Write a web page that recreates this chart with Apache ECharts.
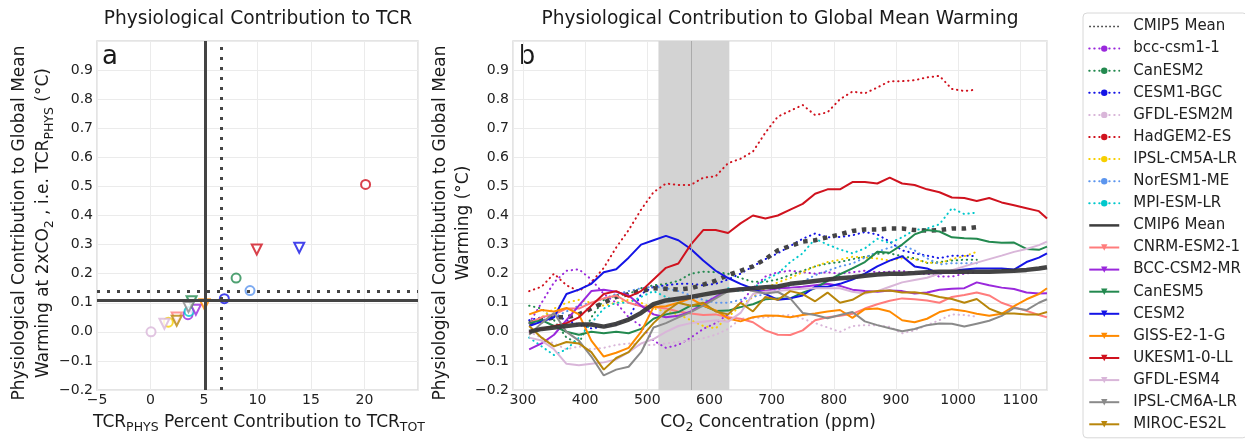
<!DOCTYPE html>
<html lang="en">
<head>
<meta charset="UTF-8">
<title>Physiological contribution to warming</title>
<script src="https://cdn.jsdelivr.net/npm/echarts@6.0.0/dist/echarts.min.js"></script>
<style>
  html, body { margin: 0; padding: 0; background: #fff; }
  #chart { width: 1245px; height: 441px; }
</style>
</head>
<body>
<div id="chart"></div>
<script>
// ---------- panel a: TCR_PHYS for each model ----------
var names5 = ['bcc-csm1-1', 'CanESM2', 'CESM1-BGC', 'GFDL-ESM2M', 'HadGEM2-ES', 'IPSL-CM5A-LR', 'NorESM1-ME', 'MPI-ESM-LR'];
var names6 = ['CNRM-ESM2-1', 'BCC-CSM2-MR', 'CanESM5', 'CESM2', 'GISS-E2-1-G', 'UKESM1-0-LL', 'GFDL-ESM4', 'IPSL-CM6A-LR', 'MIROC-ES2L'];
var colors5 = ['#9a28dc', '#23894f', '#1414e6', '#d9b6d9', '#d0121e', '#f7cf00', '#5b95ee', '#00c8cc'];
var colors6 = ['#ff7c7c', '#9a28dc', '#23894f', '#1414e6', '#ff8a00', '#d0121e', '#d9b6d9', '#8a8a8a', '#b8860b'];

var tcrPct5  = [3.5, 8.0, 6.9, 0.05, 20.1, 1.67, 9.3, 3.6];
var tcrPhys5 = [0.059, 0.185, 0.114, 0.0, 0.507, 0.033, 0.142, 0.07];
var tcrPct6  = [2.45, 4.24, 3.84, 13.9, 5.05, 9.93, 1.3, 3.55, 2.45];
var tcrPhys6 = [0.049, 0.076, 0.105, 0.289, 0.095, 0.283, 0.028, 0.085, 0.038];
var meanPct  = [6.6, 5.15];    // CMIP5, CMIP6
var meanPhys = [0.139, 0.114]; // CMIP5, CMIP6

// ---------- panel b: warming vs CO2 ----------
var co2 = [310, 330, 350, 370, 390, 410, 430, 450, 470, 490, 510, 530, 550, 570, 590, 610, 630, 650, 670, 690,
           710, 730, 750, 770, 790, 810, 830, 850, 870, 890, 910, 930, 950, 970, 990, 1010, 1030, 1050, 1070, 1090,
           1110, 1130, 1143];
var windowPpm = [518, 632];
var doublingPpm = 570;

// CMIP5 (runs stop near 1030 ppm)
var cmip5Mean = [0.03, 0.04, 0.05, 0.05, 0.06, 0.08, 0.10, 0.12, 0.13, 0.14, 0.15, 0.148, 0.145, 0.15, 0.162, 0.176, 0.195, 0.21, 0.225, 0.25,
                 0.28, 0.295, 0.31, 0.315, 0.325, 0.335, 0.347, 0.352, 0.352, 0.355, 0.355, 0.35, 0.348, 0.35, 0.355, 0.355, 0.36];
var bccCsm11 = [0.03, 0.10, 0.17, 0.21, 0.215, 0.18, 0.13, 0.10, 0.05, 0.02, -0.03, -0.055, -0.045, -0.02, 0.01, 0.03, 0.06, 0.10, 0.15, 0.19,
                0.205, 0.21, 0.205, 0.20, 0.205, 0.20, 0.205, 0.21, 0.205, 0.207, 0.21, 0.20, 0.20, 0.19, 0.19, 0.20, 0.205];
var canEsm2 = [0.09, 0.08, 0.04, -0.02, -0.04, 0.05, 0.11, 0.125, 0.13, 0.15, 0.16, 0.165, 0.175, 0.20, 0.207, 0.205, 0.20, 0.185, 0.172, 0.172,
               0.18, 0.195, 0.21, 0.225, 0.235, 0.24, 0.25, 0.258, 0.268, 0.27, 0.26, 0.253, 0.237, 0.24, 0.245, 0.248, 0.248];
var cesm1Bgc = [0.04, 0.05, 0.06, 0.04, 0.025, 0.012, 0.018, 0.025, 0.045, 0.13, 0.155, 0.16, 0.165, 0.165, 0.16, 0.165, 0.18, 0.20, 0.225, 0.25,
                0.27, 0.295, 0.32, 0.338, 0.325, 0.326, 0.332, 0.343, 0.335, 0.31, 0.28, 0.27, 0.262, 0.253, 0.262, 0.262, 0.26];
var gfdlEsm2m = [0.0, -0.02, -0.04, -0.06, -0.05, -0.06, -0.055, -0.045, -0.04, -0.045, -0.045, -0.04, -0.035, -0.03, -0.022, -0.01, 0.01, 0.045, 0.047, 0.05,
                 0.055, 0.058, 0.045, 0.03, 0.015, 0.0, 0.02, 0.023, 0.022, 0.017, -0.005, 0.005, 0.023, 0.04, 0.06, 0.058, 0.052];
var hadGem2 = [0.14, 0.155, 0.20, 0.16, 0.14, 0.17, 0.22, 0.29, 0.35, 0.42, 0.48, 0.51, 0.505, 0.505, 0.53, 0.535, 0.58, 0.595, 0.62, 0.685,
               0.74, 0.76, 0.78, 0.745, 0.755, 0.80, 0.826, 0.82, 0.84, 0.862, 0.862, 0.865, 0.875, 0.88, 0.835, 0.828, 0.833];
var ipslCm5a = [0.03, 0.05, 0.08, 0.10, 0.11, 0.10, 0.09, 0.10, 0.11, 0.10, 0.08, 0.07, 0.06, 0.04, 0.02, 0.012, 0.05, 0.09, 0.12, 0.15,
                0.17, 0.185, 0.205, 0.225, 0.24, 0.248, 0.258, 0.256, 0.252, 0.245, 0.253, 0.25, 0.238, 0.236, 0.25, 0.26, 0.275];
var norEsm1 = [0.03, 0.04, 0.05, 0.07, 0.09, 0.10, 0.115, 0.13, 0.14, 0.15, 0.155, 0.15, 0.14, 0.125, 0.11, 0.10, 0.10, 0.11, 0.12, 0.13,
               0.145, 0.16, 0.172, 0.195, 0.21, 0.225, 0.235, 0.255, 0.275, 0.29, 0.298, 0.28, 0.253, 0.232, 0.236, 0.236, 0.236];
var mpiEsm = [-0.02, -0.05, -0.08, -0.06, -0.02, 0.03, 0.08, 0.10, 0.10, 0.12, 0.14, 0.12, 0.10, 0.09, 0.10, 0.12, 0.15, 0.14, 0.15, 0.18,
              0.20, 0.24, 0.27, 0.32, 0.30, 0.283, 0.27, 0.287, 0.32, 0.305, 0.325, 0.35, 0.355, 0.37, 0.425, 0.405, 0.41];

// CMIP6
var cmip6Mean = [0.0, 0.01, 0.015, 0.02, 0.025, 0.025, 0.018, 0.027, 0.042, 0.065, 0.095, 0.108, 0.114, 0.12, 0.128, 0.135, 0.142, 0.146, 0.15, 0.153,
                 0.156, 0.165, 0.17, 0.175, 0.18, 0.184, 0.188, 0.193, 0.197, 0.2, 0.2, 0.202, 0.205, 0.207, 0.207, 0.207, 0.207, 0.207, 0.208, 0.21,
                 0.213, 0.218, 0.222];
var cnrmEsm2 = [0.03, 0.05, 0.06, 0.08, 0.08, 0.10, 0.115, 0.125, 0.10, 0.088, 0.085, 0.08, 0.07, 0.063, 0.058, 0.06, 0.05, 0.045, 0.033, 0.005,
                -0.01, -0.011, 0.005, 0.04, 0.05, 0.055, 0.062, 0.08, 0.095, 0.107, 0.115, 0.112, 0.108, 0.10, 0.12, 0.127, 0.135, 0.125, 0.10, 0.085,
                0.072, 0.058, 0.05];
var bccCsm2 = [-0.06, -0.04, -0.01, 0.04, 0.09, 0.14, 0.145, 0.138, 0.125, 0.09, 0.06, 0.05, 0.055, 0.07, 0.095, 0.12, 0.143, 0.15, 0.143, 0.14,
               0.15, 0.152, 0.155, 0.16, 0.165, 0.158, 0.145, 0.14, 0.138, 0.142, 0.14, 0.132, 0.135, 0.145, 0.148, 0.15, 0.17, 0.16, 0.152, 0.147,
               0.135, 0.132, 0.133];
var canEsm5 = [0.03, 0.04, 0.02, 0.0, -0.01, 0.0, -0.005, 0.0, -0.005, 0.01, 0.045, 0.06, 0.068, 0.09, 0.09, 0.072, 0.073, 0.085, 0.095, 0.112,
               0.115, 0.115, 0.135, 0.15, 0.175, 0.198, 0.218, 0.24, 0.275, 0.272, 0.30, 0.335, 0.35, 0.345, 0.325, 0.322, 0.32, 0.31, 0.306, 0.307,
               0.285, 0.282, 0.293];
var cesm2 = [0.02, 0.035, 0.05, 0.13, 0.145, 0.165, 0.205, 0.215, 0.255, 0.30, 0.315, 0.33, 0.315, 0.285, 0.245, 0.21, 0.185, 0.165, 0.148, 0.13,
             0.11, 0.115, 0.125, 0.155, 0.155, 0.165, 0.18, 0.20, 0.225, 0.245, 0.26, 0.225, 0.218, 0.20, 0.21, 0.214, 0.218, 0.218, 0.218, 0.214,
             0.24, 0.255, 0.27];
var gissE21g = [0.06, 0.075, 0.07, 0.082, 0.06, -0.03, -0.085, -0.072, -0.055, 0.0, 0.085, 0.088, 0.10, 0.115, 0.09, 0.074, 0.046, 0.036, 0.05, 0.056,
                0.055, 0.05, 0.058, 0.063, 0.07, 0.075, 0.048, 0.078, 0.08, 0.07, 0.04, 0.033, 0.045, 0.068, 0.078, 0.072, 0.062, 0.055, 0.062, 0.088,
                0.112, 0.13, 0.15];
var ukEsm1 = [0.0, 0.01, 0.02, 0.03, 0.05, 0.09, 0.13, 0.14, 0.12, 0.14, 0.18, 0.22, 0.235, 0.30, 0.35, 0.35, 0.34, 0.373, 0.40, 0.39,
              0.40, 0.42, 0.44, 0.475, 0.49, 0.49, 0.515, 0.515, 0.51, 0.53, 0.51, 0.505, 0.49, 0.48, 0.462, 0.46, 0.45, 0.46, 0.445, 0.435,
              0.425, 0.415, 0.39];
var gfdlEsm4 = [-0.02, -0.03, -0.06, -0.11, -0.115, -0.11, -0.105, -0.095, -0.07, -0.04, -0.025, 0.0, 0.02, 0.03, 0.035, 0.04, 0.035, 0.065, 0.13, 0.138,
                0.14, 0.145, 0.148, 0.15, 0.15, 0.15, 0.138, 0.132, 0.14, 0.155, 0.17, 0.178, 0.186, 0.20, 0.212, 0.225, 0.238, 0.25, 0.262, 0.275,
                0.285, 0.298, 0.31];
var ipslCm6a = [-0.01, 0.03, 0.065, 0.0, -0.03, -0.085, -0.15, -0.13, -0.12, -0.07, 0.015, 0.03, 0.05, 0.068, 0.09, 0.115, 0.14, 0.15, 0.14, 0.132,
                0.137, 0.115, 0.065, 0.058, 0.047, 0.058, 0.068, 0.036, 0.023, 0.012, 0.002, 0.01, 0.023, 0.029, 0.028, 0.018, 0.028, 0.038, 0.055, 0.082,
                0.075, 0.10, 0.112];
var mirocEs2l = [0.02, -0.02, -0.05, -0.035, -0.04, -0.07, -0.13, -0.09, -0.07, -0.02, 0.03, 0.07, 0.10, 0.09, 0.10, 0.07, 0.06, 0.10, 0.07, 0.12,
                 0.11, 0.14, 0.13, 0.105, 0.135, 0.10, 0.11, 0.135, 0.14, 0.142, 0.135, 0.136, 0.13, 0.12, 0.113, 0.10, 0.113, 0.08, 0.063, 0.063,
                 0.06, 0.06, 0.068];

var curves5 = [bccCsm11, canEsm2, cesm1Bgc, gfdlEsm2m, hadGem2, ipslCm5a, norEsm1, mpiEsm];
var curves6 = [cnrmEsm2, bccCsm2, canEsm5, cesm2, gissE21g, ukEsm1, gfdlEsm4, ipslCm6a, mirocEs2l];

var chart = echarts.init(document.getElementById('chart'));

function toPairs(vals) {
    return vals.map(function (v, i) { return [co2[i], v]; });
}
function minus(s) { return String(s).replace('-', '\u2212'); }

var FONT = 'DejaVu Sans';
var ink = '#1a1a1a';

var series = [];

// grey band round CO2 doubling, kept under the curves
series.push({
    type: 'line', xAxisIndex: 1, yAxisIndex: 1, data: [], silent: true,
    markArea: {
        silent: true,
        itemStyle: { color: '#d3d3d3' },
        data: [[{ xAxis: windowPpm[0] }, { xAxis: windowPpm[1] }]]
    },
    markLine: {
        silent: true, symbol: ['none', 'none'], label: { show: false },
        lineStyle: { color: '#ababab', width: 1, type: 'solid' },
        data: [{ xAxis: doublingPpm }]
    }
});

function modelLine(name, vals, color, dotted) {
    return {
        name: name, type: 'line', xAxisIndex: 1, yAxisIndex: 1,
        data: toPairs(vals),
        showSymbol: false,
        symbol: dotted ? 'circle' : 'triangle',
        symbolRotate: dotted ? 0 : 180,
        symbolSize: 6,
        itemStyle: { color: color },
        lineStyle: { color: color, width: 2, type: dotted ? [0.4, 4.6] : 'solid', cap: dotted ? 'round' : 'butt' },
        emphasis: { disabled: true },
        silent: true
    };
}

names5.forEach(function (n, i) { series.push(modelLine(n, curves5[i], colors5[i], true)); });
series.push({
    name: 'CMIP5 Mean', type: 'line', xAxisIndex: 1, yAxisIndex: 1,
    data: toPairs(cmip5Mean), showSymbol: false, symbol: 'circle',
    itemStyle: { color: '#444' },
    lineStyle: { color: '#444', width: 4.5, type: [4.5, 5.5] },
    emphasis: { disabled: true }, silent: true
});
names6.forEach(function (n, i) { series.push(modelLine(n, curves6[i], colors6[i], false)); });
series.push({
    name: 'CMIP6 Mean', type: 'line', xAxisIndex: 1, yAxisIndex: 1,
    data: toPairs(cmip6Mean), showSymbol: false, symbol: 'circle',
    itemStyle: { color: '#3a3a3a' },
    lineStyle: { color: '#3a3a3a', width: 4.5, opacity: 0.95 },
    emphasis: { disabled: true }, silent: true
});

// panel a scatter markers
names5.forEach(function (n, i) {
    series.push({
        name: n, type: 'scatter', xAxisIndex: 0, yAxisIndex: 0,
        data: [[tcrPct5[i], tcrPhys5[i]]],
        symbol: 'emptyCircle', symbolSize: 9,
        itemStyle: { color: colors5[i], borderWidth: 1.8 },
        emphasis: { disabled: true }, silent: true, z: 4
    });
});
names6.forEach(function (n, i) {
    series.push({
        name: n, type: 'scatter', xAxisIndex: 0, yAxisIndex: 0,
        data: [[tcrPct6[i], tcrPhys6[i]]],
        symbol: 'emptyTriangle', symbolRotate: 180, symbolSize: 10,
        itemStyle: { color: colors6[i], borderWidth: 1.8 },
        emphasis: { disabled: true }, silent: true, z: 4
    });
});
// multi-model means in panel a
series.push({
    type: 'scatter', xAxisIndex: 0, yAxisIndex: 0, data: [], silent: true,
    markLine: {
        silent: true, symbol: ['none', 'none'], label: { show: false },
        lineStyle: { color: '#444', width: 3 },
        data: [
            { xAxis: meanPct[1], lineStyle: { type: 'solid' } },
            { yAxis: meanPhys[1], lineStyle: { type: 'solid' } },
            { xAxis: meanPct[0], lineStyle: { type: [3, 7] } },
            { yAxis: meanPhys[0], lineStyle: { type: [3, 7] } }
        ]
    }
});

var legendData = [{ name: 'CMIP5 Mean', itemStyle: { opacity: 0 }, lineStyle: { width: 1.6, type: [1.6, 2.4], color: '#333' } }]
    .concat(names5)
    .concat([{ name: 'CMIP6 Mean', itemStyle: { opacity: 0 }, lineStyle: { width: 2.5, type: 'solid', color: '#333' } }])
    .concat(names6);

var tickLabel = { fontFamily: FONT, fontSize: 14, color: '#222' };
var splitLine = { show: true, lineStyle: { color: '#ebebeb', width: 1 } };

function yAxisFor(gridIndex) {
    return {
        type: 'value', gridIndex: gridIndex, min: -0.2, max: 1.0, interval: 0.1,
        axisLine: { show: false }, axisTick: { show: false }, splitLine: splitLine,
        axisLabel: Object.assign({ margin: 4, showMaxLabel: false,
            formatter: function (v) { return minus(v.toFixed(1)); } }, tickLabel)
    };
}

var sub = { fontFamily: FONT, fontSize: 12.5, lineHeight: 12, verticalAlign: 'bottom', fill: ink };
function label(x, y, text, size, rot, lineH) {
    return {
        type: 'text', x: x, y: y, rotation: rot || 0, silent: true,
        style: {
            text: text, fontFamily: FONT, fontSize: size, fill: ink,
            align: 'center', verticalAlign: 'middle', lineHeight: lineH || size + 4,
            rich: { s: sub }
        }
    };
}

var option = {
    animation: false,
    backgroundColor: '#fff',
    grid: [
        { left: 97, top: 41, width: 321, height: 349, show: true, borderColor: '#dcdcdc', borderWidth: 1.5, outerBoundsMode: 'none' },
        { left: 513, top: 41, width: 534, height: 349, show: true, borderColor: '#dcdcdc', borderWidth: 1.5, outerBoundsMode: 'none' }
    ],
    xAxis: [
        {
            type: 'value', gridIndex: 0, min: -5, max: 25, interval: 5,
            axisLine: { show: false }, axisTick: { show: false }, splitLine: splitLine,
            axisLabel: Object.assign({ margin: 3, showMaxLabel: false,
                formatter: function (v) { return minus(v); } }, tickLabel)
        },
        {
            type: 'value', gridIndex: 1, min: 284, max: 1143, splitNumber: 9,
            axisLine: { show: false }, axisTick: { show: false }, splitLine: splitLine,
            axisLabel: Object.assign({ margin: 3, showMinLabel: false, showMaxLabel: false,
                formatter: function (v) { return String(v); } }, tickLabel)
        }
    ],
    yAxis: [yAxisFor(0), yAxisFor(1)],
    legend: {
        orient: 'vertical', left: 1083, top: 13, padding: [6, 6, 6, 5],
        itemWidth: 30, itemHeight: 8, itemGap: 7.1,
        borderColor: '#d8d8d8', borderWidth: 1, borderRadius: 4,
        selectedMode: false,
        textStyle: { fontFamily: FONT, fontSize: 15, color: '#222', lineHeight: 14, padding: [0, 0, 0, 9] },
        data: legendData
    },
    graphic: [
        label(258, 19, 'Physiological Contribution to TCR', 18.6),
        label(780, 19, 'Physiological Contribution to Global Mean Warming', 18.6),
        label(110, 57, 'a', 26),
        label(527, 57, 'b', 26),
        label(32, 223, 'Physiological Contribution to Global Mean\nWarming at 2xCO{s|2} , i.e. TCR{s|PHYS} (\u00b0C)', 17, Math.PI / 2, 24),
        label(452, 223, 'Physiological Contribution to Global Mean\nWarming (\u00b0C)', 17, Math.PI / 2, 23),
        label(259, 423, 'TCR{s|PHYS} Percent Contribution to TCR{s|TOT}', 17, 0, 22),
        label(768, 423, 'CO{s|2} Concentration (ppm)', 17, 0, 22)
    ],
    series: series
};

chart.setOption(option);
window.onresize = function () { chart.resize(); };
</script>
</body>
</html>
